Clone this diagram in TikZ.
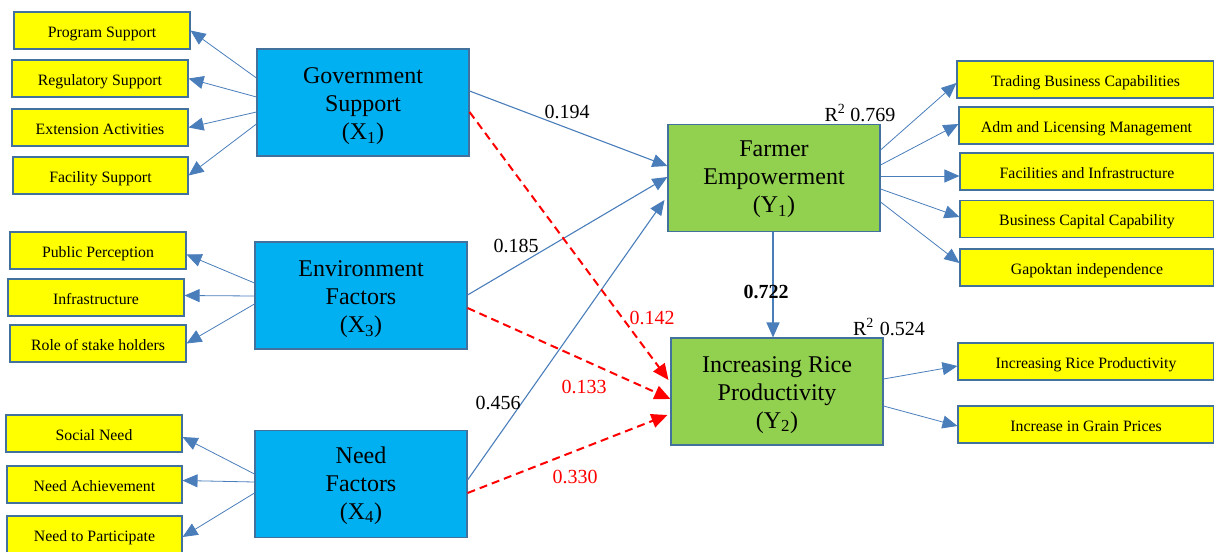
\documentclass[tikz,border=0pt]{standalone}
\usepackage{fontspec}
\setmainfont{Liberation Serif}
\usetikzlibrary{arrows.meta}

\definecolor{cyanbox}{HTML}{00B0F0}
\definecolor{greenbox}{HTML}{92D050}
\definecolor{yellowbox}{HTML}{FFFF00}
\definecolor{edgeblue}{HTML}{41719C}
\definecolor{linkblue}{HTML}{4A7EBB}
\definecolor{pathred}{HTML}{FF0000}

% three centred lines, drawn a little below the box centre
\newcommand{\constructlines}[2][3.5pt]{\raisebox{-#1}[\height][\depth]{\begin{tabular}{@{}c@{}}#2\end{tabular}}}

\begin{document}
\begin{tikzpicture}[x=1pt,y=-1pt,
  indicator/.style={draw=edgeblue,line width=1.1pt,fill=yellowbox,inner sep=0pt,
    minimum height=37pt,text height=13.6pt,text depth=0pt,
    font=\fontsize{15.8}{18}\selectfont},
  construct/.style={draw=edgeblue,line width=1.1pt,inner sep=0pt,
    minimum width=212pt,minimum height=107pt,font=\fontsize{24}{28}\selectfont},
  exo/.style={construct,fill=cyanbox},
  endo/.style={construct,fill=greenbox},
  loading/.style={draw=linkblue,line width=0.8pt,-{Triangle[length=15pt,width=13pt]}},
  effect/.style={draw=linkblue,line width=1.1pt,-{Triangle[length=15pt,width=13pt]}},
  indirect/.style={draw=pathred,line width=2pt,dash pattern=on 8pt off 5pt,
    -{Triangle[length=16pt,width=14pt]}},
  coef/.style={inner sep=0pt,font=\fontsize{20}{24}\selectfont},
  redcoef/.style={coef,text=pathred}]

\useasboundingbox (0,0) rectangle (1214,551);

% latent constructs
\node[exo]  (gov)  at (363,102.5) {\constructlines{Government\\Support\\(X\textsubscript{1})}};
\node[exo]  (env)  at (361,295.5) {\constructlines{Environment\\Factors\\(X\textsubscript{3})}};
\node[exo]  (need) at (361,484)   {\constructlines[1.5pt]{Need\\Factors\\(X\textsubscript{4})}};
\node[endo] (fe)   at (774,178)   {\constructlines[1pt]{Farmer\\Empowerment\\(Y\textsubscript{1})}};
\node[endo] (ir)   at (777,391.5) {\constructlines[3pt]{Increasing Rice\\Productivity\\(Y\textsubscript{2})}};

% indicators of X1
\node[indicator,minimum width=176pt] (ps) at (102,30.5)  {Program Support};
\node[indicator,minimum width=176pt] (rs) at (100,78.5)  {Regulatory Support};
\node[indicator,minimum width=176pt] (ea) at (100,127.5) {Extension Activities};
\node[indicator,minimum width=175pt] (fs) at (100.5,175.5) {Facility Support};

% indicators of X3
\node[indicator,minimum width=176pt] (pp)  at (98,250.5) {Public Perception};
\node[indicator,minimum width=176pt] (inf) at (96,297.5) {Infrastructure};
\node[indicator,minimum width=176pt] (rsh) at (98,343.5) {Role of stake holders};

% indicators of X4
\node[indicator,minimum width=176pt] (sn) at (94,433.5) {Social Need};
\node[indicator,minimum width=175pt] (na) at (94.5,484.5) {Need Achievement};
\node[indicator,minimum width=175pt] (np) at (94.5,534.5) {Need to Participate};

% indicators of Y1
\node[indicator,minimum width=257pt] (tbc) at (1085.5,79.5)  {Trading Business Capabilities};
\node[indicator,minimum width=255pt] (alm) at (1086.5,125.5) {Adm and Licensing Management};
\node[indicator,minimum width=254pt] (fi)  at (1087,171.5)   {Facilities and Infrastructure};
\node[indicator,minimum width=254pt] (bcc) at (1087,219)     {Business Capital Capability};
\node[indicator,minimum width=254pt] (gi)  at (1087,267.5)   {Gapoktan independence};

% indicators of Y2
\node[indicator,minimum width=256pt] (irp) at (1086,361.5) {Increasing Rice Productivity};
\node[indicator,minimum width=256pt] (igp) at (1086,424.5) {Increase in Grain Prices};

% outer loadings
\draw[loading] ([yshift=24.5pt]gov.west) -- (ps.east);
\draw[loading] ([yshift=5.5pt]gov.west)  -- (rs.east);
\draw[loading] ([yshift=-9.5pt]gov.west) -- (ea.east);
\draw[loading] ([yshift=-21.5pt]gov.west) -- (fs.east);

\draw[loading] ([yshift=12.5pt]env.west) -- ([yshift=-4pt]pp.east);
\draw[loading] ([yshift=-0.5pt]env.west) -- ([yshift=2pt]inf.east);
\draw[loading] ([yshift=-8.5pt]env.west) -- (rsh.east);

\draw[loading] ([yshift=10pt]need.west) -- ([yshift=-3.5pt]sn.east);
\draw[loading] ([yshift=2pt]need.west)  -- ([yshift=4pt]na.east);
\draw[loading] ([yshift=-9pt]need.west) -- ([yshift=-2.5pt]np.east);

\draw[loading] ([yshift=28pt]fe.east)  -- ([yshift=-3.5pt]tbc.west);
\draw[loading] ([yshift=13pt]fe.east)  -- ([yshift=1.5pt]alm.west);
\draw[loading] ([yshift=2pt]fe.east)   -- ([yshift=-4.5pt]fi.west);
\draw[loading] ([yshift=-11pt]fe.east) -- ([yshift=2pt]bcc.west);
\draw[loading] ([yshift=-24pt]fe.east) -- ([yshift=4.5pt]gi.west);

\draw[loading] ([yshift=12.5pt]ir.east)  -- ([yshift=-4.5pt]irp.west);
\draw[loading] ([yshift=-14.5pt]ir.east) -- ([yshift=-1.5pt]igp.west);

% structural paths
\draw[effect] ([yshift=11.5pt]gov.east) -- ([yshift=12pt]fe.west);
\draw[effect] ([yshift=0.5pt]env.east)  -- ([yshift=1pt]fe.west);
\draw[effect] ([yshift=4pt]need.east)   -- ([xshift=-3pt,yshift=-22pt]fe.west);
\draw[effect] ([xshift=-1pt]fe.south) -- ([xshift=-1pt]fe.south |- ir.north);

\draw[indirect] ([yshift=-9.5pt]gov.east) -- ([xshift=-2pt,yshift=11.5pt]ir.west);
\draw[indirect] ([yshift=-12.5pt]env.east) -- ([yshift=-7.5pt]ir.west);
\draw[indirect] ([yshift=-9pt]need.east) -- ([xshift=-3pt,yshift=-23.5pt]ir.west);

% path coefficients
\node[coef] (c194) at (567,112) {0.194};
\node[coef] (c185) at (516,246) {0.185};
\node[coef] (c456) at (498,403) {0.456};
\node[coef,font=\fontsize{20}{24}\selectfont\bfseries] (c722) at (766,292) {0.722};
\node[redcoef] (c142) at (652,318) {0.142};
\node[redcoef] (c133) at (584,387) {0.133};
\node[redcoef] (c330) at (575,477) {0.330};

% explained variance
\node[coef] (r1) at (860,113) {R\textsuperscript{2} 0.769};
\node[coef] (r2) at (889,327) {R\textsuperscript{2}\hspace{6pt}0.524};

\end{tikzpicture}
\end{document}
